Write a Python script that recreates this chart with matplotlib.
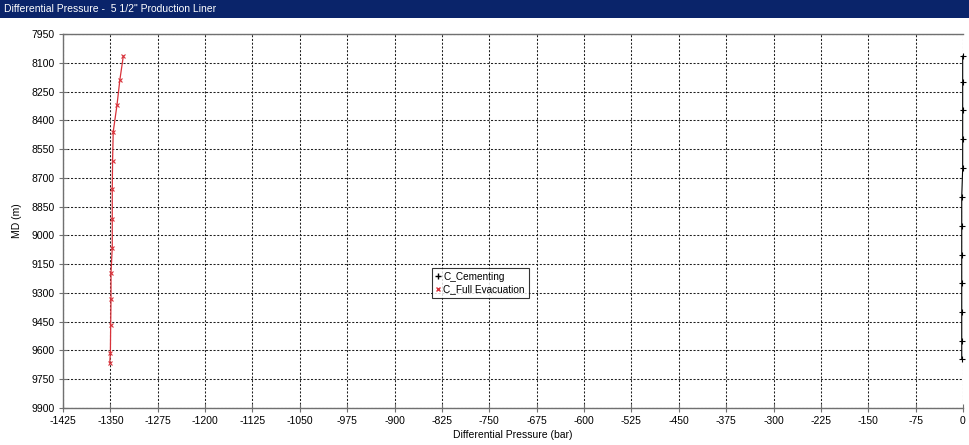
import matplotlib.pyplot as plt
from matplotlib.lines import Line2D
import numpy as np

plt.rcParams['font.family'] = ['Liberation Sans', 'DejaVu Sans']
plt.rcParams['axes.unicode_minus'] = False

# Depth points (MD, m) and differential pressures (bar)
md_full_evac = [8065, 8190, 8320, 8460, 8610, 8760, 8915, 9065, 9195, 9330, 9465, 9615, 9665]
dp_full_evac = [-1329.5, -1335, -1339.5, -1345.5, -1346.5, -1347, -1347, -1347,
                -1349, -1349, -1349.5, -1350, -1351]

md_cementing = [8065, 8200, 8345, 8495, 8650, 8800, 8950, 9100, 9250, 9400, 9550, 9645]
dp_cementing = [-0.5, -0.5, -0.5, -0.5, -0.5, -2, -2, -2, -2, -2, -2, -2]

title = 'Differential Pressure -  5 1/2" Production Liner'
x_ticks = np.arange(-1425, 1, 75)
y_ticks = np.arange(7950, 9901, 150)

fig = plt.figure(figsize=(9.69, 4.45), dpi=100)

# Title bar across the top of the window
fig.patches.append(plt.Rectangle((0, 1 - 18 / 445), 1, 18 / 445, transform=fig.transFigure,
                                 facecolor='#0a246a', edgecolor='none', zorder=0))
fig.text(4 / 969, 1 - 9 / 445, title, color='white', fontsize=7.5, va='center', ha='left')

ax = fig.add_axes([63 / 969, 1 - 408 / 445, 900 / 969, 374 / 445])

ax.plot(dp_cementing, md_cementing, color='black', linewidth=0.8, marker='+',
        markersize=5, markeredgewidth=0.8, zorder=3, clip_on=False)
ax.plot(dp_full_evac, md_full_evac, color='#d8323a', linewidth=0.9, marker='x',
        markersize=3.5, markeredgewidth=0.8, zorder=3)

ax.set_xlim(-1425, 0)
ax.set_ylim(9900, 7950)
ax.set_xticks(x_ticks)
ax.set_yticks(y_ticks)
ax.tick_params(axis='both', labelsize=7.5, direction='inout', length=6, width=0.8,
               color='#707070', pad=3)
ax.grid(True, color='#202020', linestyle=(0, (2, 1.6)), linewidth=0.75)

ax.spines['right'].set_visible(False)
for side in ['left', 'bottom', 'top']:
    ax.spines[side].set_color('#707070')
    ax.spines[side].set_linewidth(1.0)

ax.set_xlabel('Differential Pressure (bar)', fontsize=7.5, labelpad=3)
ax.set_ylabel('MD (m)', fontsize=7.5, labelpad=7)

handles = [Line2D([], [], color='black', marker='+', linestyle='None', markersize=5),
           Line2D([], [], color='#d8323a', marker='x', linestyle='None', markersize=3.5)]
leg = ax.legend(handles, ['C_Cementing', 'C_Full Evacuation'], loc='upper left',
                bbox_to_anchor=(0.41, 0.374), fontsize=7.2, frameon=True, fancybox=False,
                handlelength=0.5, handletextpad=0.3, borderpad=0.35, labelspacing=0.3,
                borderaxespad=0)
leg.get_frame().set_edgecolor('black')
leg.get_frame().set_linewidth(0.8)

fig.savefig('out.png', dpi=100)
